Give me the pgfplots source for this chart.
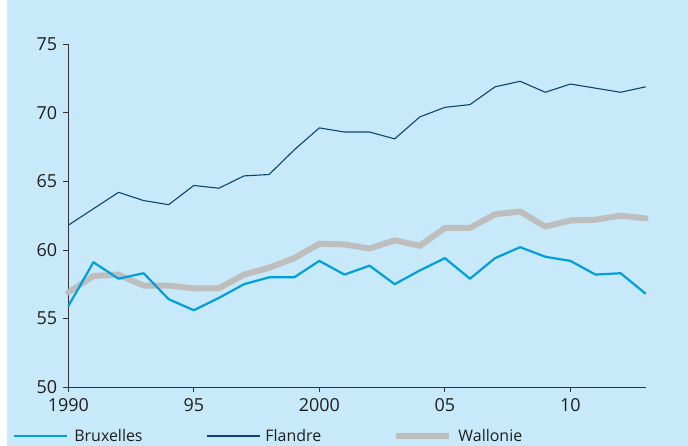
\documentclass[border=0pt]{standalone}
\usepackage{pgfplots}
\pgfplotsset{compat=1.18}
\usepackage{fontspec}
\setmainfont{Open Sans}
\definecolor{bg}{HTML}{C7E9F9}
\definecolor{brux}{HTML}{009FE0}
\definecolor{fland}{HTML}{0B4476}
\definecolor{wall}{HTML}{BEBEBE}
\definecolor{axc}{HTML}{333333}
\definecolor{txt}{HTML}{1E1E1E}
\begin{document}
\begin{tikzpicture}[x=1bp,y=1bp]
\path[use as bounding box] (0,0) rectangle (688,446);
\fill[white] (0,0) rectangle (688,446);
\fill[bg] (7,0) rectangle (688,446);
\begin{axis}[
  at={(68.3bp,59bp)}, anchor=south west, scale only axis,
  width=577.4bp, height=342.7bp,
  xmin=1990, xmax=2013, ymin=50, ymax=75,
  axis lines*=left,
  axis line style={axc, line width=0.8bp, -},
  xtick={1990,1995,2000,2005,2010},
  xticklabels={1990,95,2000,05,10},
  ytick={50,55,60,65,70,75},
  tick align=outside, major tick length=5bp,
  tick style={axc, line width=0.8bp},
  /pgf/number format/assume math mode=true,
  ticklabel style={font=\fontsize{18}{20}\selectfont, text=txt},
  xticklabel style={anchor=north, inner sep=0pt, yshift=-6bp},
  yticklabel style={anchor=east, inner sep=0pt, xshift=-6bp},
  clip=false,
  legend columns=3,
  legend style={at={(-0.0958,-0.143)}, anchor=west, draw=none, fill=none,
    inner sep=0pt, column sep=0pt, row sep=0pt,
    nodes={inner sep=0pt, anchor=west, text=txt, font=\fontsize{16}{18}\selectfont}},
  legend image code/.code={\draw[#1, line cap=butt] (0bp,0bp) -- (53bp,0bp);},
]
\addplot[wall, line width=6bp, line join=round, line cap=round, forget plot] coordinates {
(1990,56.9) (1991,58.1) (1992,58.2) (1993,57.4) (1994,57.4) (1995,57.2) (1996,57.2)
(1997,58.2) (1998,58.7) (1999,59.4) (2000,60.45) (2001,60.4) (2002,60.1) (2003,60.7)
(2004,60.3) (2005,61.6) (2006,61.6) (2007,62.6) (2008,62.8) (2009,61.7) (2010,62.15)
(2011,62.2) (2012,62.5) (2013,62.3)};
\addplot[brux, line width=2.2bp, line join=round] coordinates {
(1990,55.9) (1991,59.1) (1992,57.9) (1993,58.3) (1994,56.4) (1995,55.6) (1996,56.5)
(1997,57.5) (1998,58.0) (1999,58.0) (2000,59.2) (2001,58.2) (2002,58.85) (2003,57.5)
(2004,58.5) (2005,59.4) (2006,57.9) (2007,59.4) (2008,60.2) (2009,59.5) (2010,59.2)
(2011,58.2) (2012,58.3) (2013,56.8)};
\addlegendentry{\makebox[138bp][l]{\hspace{6bp}Bruxelles}}
\addplot[fland, line width=1.1bp, line join=round] coordinates {
(1990,61.8) (1991,63.0) (1992,64.2) (1993,63.6) (1994,63.3) (1995,64.7) (1996,64.5)
(1997,65.4) (1998,65.5) (1999,67.3) (2000,68.9) (2001,68.6) (2002,68.6) (2003,68.1)
(2004,69.7) (2005,70.4) (2006,70.6) (2007,71.9) (2008,72.3) (2009,71.5) (2010,72.1)
(2011,71.8) (2012,71.5) (2013,71.9)};
\addlegendentry{\makebox[133bp][l]{\hspace{5bp}Flandre}}
\addlegendimage{wall, line width=6bp}
\addlegendentry{\hspace{6bp}Wallonie}
\end{axis}
\end{tikzpicture}
\end{document}
